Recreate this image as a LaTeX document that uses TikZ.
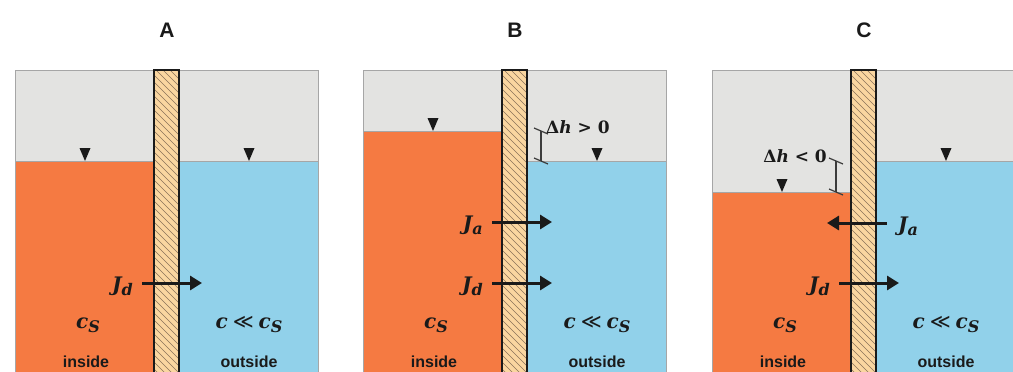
\RequirePackage{fix-cm}
\documentclass[tikz,border=0pt]{standalone}
\usepackage{fontspec}
\setsansfont{Liberation Sans}
\newfontfamily\symfont{DejaVu Serif}
\newfontfamily\opfont{DejaVu Sans}
\usepackage{tikz}
\usetikzlibrary{positioning,arrows.meta}
\definecolor{air}{HTML}{E3E3E1}
\definecolor{inw}{HTML}{F57A42}
\definecolor{outw}{HTML}{91D1EA}
\definecolor{wallc}{HTML}{FAD6A0}
\definecolor{hatchc}{HTML}{8A7259}
\definecolor{ink}{HTML}{1A1A1A}
\newcommand{\sub}[1]{\raisebox{-4pt}{\fontsize{16}{18}\selectfont #1}}
\tikzset{
  rim/.style={draw=black!35,line width=0.8pt},
  wall/.style={draw=ink,line width=1.4pt},
  hatch/.style={hatchc,line width=0.6pt},
  lvl/.style={fill=ink},
  flux/.style={-{Triangle[length=12pt,width=14pt]},line width=3pt,ink},
  dim/.style={ink!85,line width=1.2pt},
  ttl/.style={font=\sffamily\bfseries\fontsize{21}{24}\selectfont,inner sep=0pt,text=ink},
  side/.style={font=\sffamily\bfseries\fontsize{16}{19}\selectfont,inner sep=0pt,text=ink},
  conc/.style={font=\symfont\bfseries\itshape\fontsize{20}{24}\selectfont,inner sep=0pt,text=ink},
  fl/.style={font=\symfont\bfseries\itshape\fontsize{20}{24}\selectfont,inner sep=0pt,text=ink},
  dh/.style={font=\symfont\bfseries\fontsize{17}{20}\selectfont,inner sep=0pt,text=ink},
}
% #1 name, #2 left edge, #3 inside level, #4 outside level
\newcommand{\tank}[4]{%
  \fill[air] (#2,70) rectangle (#2+303,372);
  \fill[inw] (#2,#3) rectangle (#2+139,372);
  \fill[outw] (#2+164,#4) rectangle (#2+303,372);
  \draw[rim] (#2,372) |- (#2+303,70) -- (#2+303,372);
  \draw[rim] (#2,#3) -- (#2+139,#3) (#2+164,#4) -- (#2+303,#4);
  \begin{scope}
    \clip (#2+139,70) rectangle (#2+164,372);
    \fill[wallc] (#2+139,70) rectangle (#2+164,372);
    \foreach \k in {0,...,48} \draw[hatch] (#2+139,{40+7*\k}) -- ++(32,32);
  \end{scope}
  \draw[wall] (#2+139,373) |- (#2+164,70) -- (#2+164,373);
  \node[ttl] (t#1) at (#2+152,30) {#1};
  \fill[lvl] (#2+70,#3) -- ++(-5.5,-13) -- ++(11,0) -- cycle;
  \fill[lvl] (#2+234,#4) -- ++(-5.5,-13) -- ++(11,0) -- cycle;
  \node[conc,anchor=base] (ci#1) at (#2+73,328) {c\sub{S}};
  \node[conc,anchor=base] (co#1) at (#2+234,328) {c\hspace{5pt}{\opfont\mdseries\upshape ≪}\hspace{5pt}c\sub{S}};
  \node[side,anchor=base] (in#1) at (#2+71,367) {inside};
  \node[side,anchor=base] (out#1) at (#2+234,367) {outside};}

\begin{document}
\begin{tikzpicture}[x=1pt,y=-1pt]
\useasboundingbox (0,0) rectangle (1013,372);
\tank{A}{15}{161}{161}
\tank{B}{363}{131}{161}
\tank{C}{712}{192}{161}
% panel A
\coordinate (jdA-s) at (142,283); \coordinate (jdA-e) at (202,283);
\node[fl,left=9pt of jdA-s,yshift=-3pt] (jdA) {J\sub{d}};
\draw[flux] (jdA-s) -- (jdA-e);
% panel B
\coordinate (jaB-s) at (492,222); \coordinate (jaB-e) at (552,222);
\node[fl,left=9pt of jaB-s,yshift=-3pt] (jaB) {J\sub{a}};
\draw[flux] (jaB-s) -- (jaB-e);
\coordinate (jdB-s) at (492,283); \coordinate (jdB-e) at (552,283);
\node[fl,left=9pt of jdB-s,yshift=-3pt] (jdB) {J\sub{d}};
\draw[flux] (jdB-s) -- (jdB-e);
\coordinate (dhB-t) at (541,131); \coordinate (dhB-b) at (541,161);
\draw[dim] (dhB-t) -- (dhB-b);
\draw[dim] ([shift={(-7,-3)}]dhB-t) -- ([shift={(7,3)}]dhB-t);
\draw[dim] ([shift={(-7,-3)}]dhB-b) -- ([shift={(7,3)}]dhB-b);
\node[dh,anchor=base west] (dhB) at (546,133) {Δ\textit{h} > 0};
% panel C
\coordinate (jaC-s) at (887,223); \coordinate (jaC-e) at (827,223);
\node[fl,right=11pt of jaC-s,yshift=-3pt] (jaC) {J\sub{a}};
\draw[flux] (jaC-s) -- (jaC-e);
\coordinate (jdC-s) at (839,283); \coordinate (jdC-e) at (899,283);
\node[fl,left=9pt of jdC-s,yshift=-3pt] (jdC) {J\sub{d}};
\draw[flux] (jdC-s) -- (jdC-e);
\coordinate (dhC-t) at (836,161); \coordinate (dhC-b) at (836,192);
\draw[dim] (dhC-t) -- (dhC-b);
\draw[dim] ([shift={(-7,-3)}]dhC-t) -- ([shift={(7,3)}]dhC-t);
\draw[dim] ([shift={(-7,-3)}]dhC-b) -- ([shift={(7,3)}]dhC-b);
\node[dh,anchor=base east] (dhC) at (827,162) {Δ\textit{h} < 0};
\end{tikzpicture}
\end{document}
